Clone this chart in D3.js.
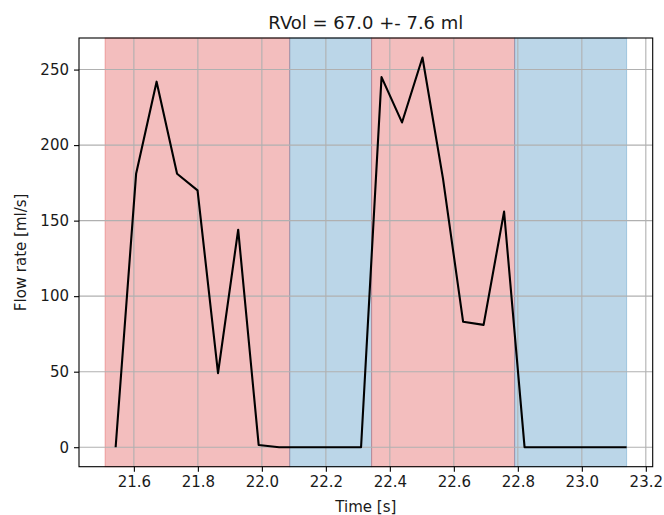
<!DOCTYPE html>
<html>
<head>
<meta charset="utf-8">
<script src="https://cdn.jsdelivr.net/npm/d3@7"></script>
<style>
  body { margin: 0; background: #fff; }
  svg { display: block; font-family: "DejaVu Sans", sans-serif; }
</style>
</head>
<body>
<svg id="chart"></svg>
<script>
// flow samples
const times = [21.543, 21.607, 21.671, 21.735, 21.799, 21.863, 21.926, 21.990, 22.054, 22.118,
               22.182, 22.246, 22.310, 22.374, 22.438, 22.502, 22.566, 22.629, 22.693, 22.757,
               22.821, 22.885, 22.949, 23.013, 23.077, 23.140];
const flow = [0, 181, 242, 181, 170, 49, 144, 1.5, 0, 0,
              0, 0, 0, 245, 215, 258, 178, 83, 81, 156,
              0, 0, 0, 0, 0, 0];

// shaded phases
const spanStart = [21.510, 22.087, 22.343, 22.790];
const spanEnd   = [22.087, 22.343, 22.790, 23.140];
const spanKind  = ["red", "blue", "red", "blue"];

const xTicks = [21.6, 21.8, 22.0, 22.2, 22.4, 22.6, 22.8, 23.0, 23.2];
const yTicks = [0, 50, 100, 150, 200, 250];

const title = "RVol = 67.0 +- 7.6 ml";

const width = 664, height = 515;
const margin = {top: 38, right: 11.3, bottom: 48.3, left: 79};
const innerW = width - margin.left - margin.right;
const innerH = height - margin.top - margin.bottom;

const colors = {red: "#d62728", blue: "#1f77b4"};

const svg = d3.select("#chart").attr("width", width).attr("height", height);
const chart = svg.append("g").attr("transform", `translate(${margin.left},${margin.top})`);

// matplotlib style 5% padding
const xlo = Math.min(d3.min(times), d3.min(spanStart));
const xhi = Math.max(d3.max(times), d3.max(spanEnd));
const xpad = (xhi - xlo) * 0.05;
const ylo = d3.min(flow), yhi = d3.max(flow);
const ypad = (yhi - ylo) * 0.05;

const xscale = d3.scaleLinear().domain([xlo - xpad, xhi + xpad]).range([0, innerW]);
const yscale = d3.scaleLinear().domain([ylo - ypad, yhi + ypad]).range([innerH, 0]);

// spans
chart.selectAll("rect.span")
  .data(spanStart.map((s, i) => ({s: s, e: spanEnd[i], k: spanKind[i]})))
  .enter().append("rect")
  .attr("class", "span")
  .attr("x", d => xscale(d.s))
  .attr("width", d => xscale(d.e) - xscale(d.s))
  .attr("y", 0)
  .attr("height", innerH)
  .attr("fill", d => colors[d.k])
  .attr("fill-opacity", 0.3)
  .attr("stroke", d => colors[d.k])
  .attr("stroke-opacity", 0.3)
  .attr("stroke-width", 1);

// grid
chart.append("g").selectAll("line")
  .data(xTicks).enter().append("line")
  .attr("x1", d => xscale(d)).attr("x2", d => xscale(d))
  .attr("y1", 0).attr("y2", innerH)
  .attr("stroke", "#b0b0b0").attr("stroke-width", 1.1);

chart.append("g").selectAll("line")
  .data(yTicks).enter().append("line")
  .attr("x1", 0).attr("x2", innerW)
  .attr("y1", d => yscale(d)).attr("y2", d => yscale(d))
  .attr("stroke", "#b0b0b0").attr("stroke-width", 1.1);

// flow line
const line = d3.line().x(d => xscale(d[0])).y(d => yscale(d[1]));
chart.append("path")
  .datum(times.map((t, i) => [t, flow[i]]))
  .attr("d", line)
  .attr("fill", "none")
  .attr("stroke", "#000")
  .attr("stroke-width", 2.1)
  .attr("stroke-linejoin", "round");

// frame
chart.append("rect")
  .attr("width", innerW).attr("height", innerH)
  .attr("fill", "none").attr("stroke", "#000").attr("stroke-width", 1.1);

// axes
const xaxis = d3.axisBottom(xscale).tickValues(xTicks).tickFormat(d3.format(".1f"))
  .tickSize(5).tickPadding(5);
const yaxis = d3.axisLeft(yscale).tickValues(yTicks).tickFormat(d3.format("d"))
  .tickSize(5).tickPadding(5);

const xg = chart.append("g").attr("transform", `translate(0,${innerH})`).call(xaxis);
const yg = chart.append("g").call(yaxis);
[xg, yg].forEach(g => {
  g.select(".domain").remove();
  g.selectAll(".tick line").attr("stroke", "#000").attr("stroke-width", 1.1);
  g.selectAll(".tick text").attr("fill", "#1a1a1a")
    .style("font-family", "DejaVu Sans").style("font-size", "15px");
});

// labels
svg.append("text")
  .text(title)
  .attr("x", margin.left + innerW / 2)
  .attr("y", 29)
  .attr("text-anchor", "middle")
  .attr("font-size", "18px")
  .attr("fill", "#1a1a1a");

svg.append("text")
  .text("Time [s]")
  .attr("x", margin.left + innerW / 2)
  .attr("y", 512)
  .attr("text-anchor", "middle")
  .attr("font-size", "15px")
  .attr("fill", "#1a1a1a");

svg.append("text")
  .text("Flow rate [ml/s]")
  .attr("transform", `translate(26,${margin.top + innerH / 2}) rotate(-90)`)
  .attr("text-anchor", "middle")
  .attr("font-size", "15px")
  .attr("fill", "#1a1a1a");
</script>
</body>
</html>
